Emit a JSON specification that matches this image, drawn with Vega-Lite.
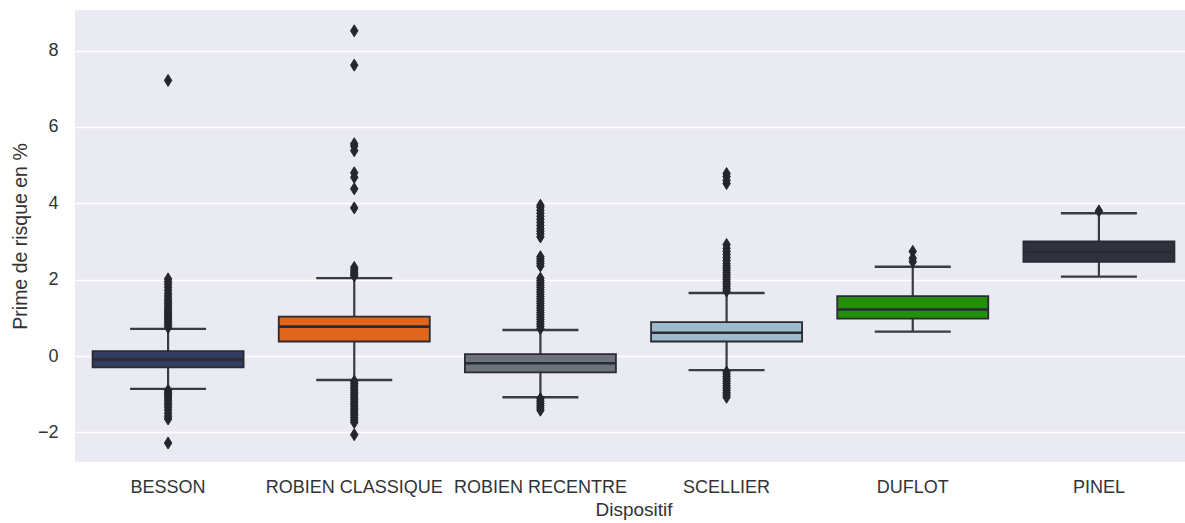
{
  "$schema": "https://vega.github.io/schema/vega-lite/v6.json",
  "width": 1117,
  "height": 452,
  "autosize": "none",
  "padding": {"left": 75, "top": 10, "right": 0, "bottom": 61},
  "background": "white",
  "config": {
    "view": {"fill": "#eaeaf2", "stroke": null},
    "font": "Liberation Sans",
    "axis": {"labelColor": "#333333", "titleColor": "#333333", "labelFont": "Liberation Sans", "titleFont": "Liberation Sans", "titleFontWeight": "normal", "domain": false, "ticks": false}
  },
  "datasets": {
    "boxes": [
      {"Dispositif": "BESSON", "lo": -0.86, "q1": -0.30, "med": -0.09, "q3": 0.13, "hi": 0.71},
      {"Dispositif": "ROBIEN CLASSIQUE", "lo": -0.63, "q1": 0.38, "med": 0.77, "q3": 1.03, "hi": 2.04},
      {"Dispositif": "ROBIEN RECENTRE", "lo": -1.08, "q1": -0.43, "med": -0.19, "q3": 0.05, "hi": 0.68},
      {"Dispositif": "SCELLIER", "lo": -0.37, "q1": 0.38, "med": 0.61, "q3": 0.89, "hi": 1.65},
      {"Dispositif": "DUFLOT", "lo": 0.64, "q1": 0.98, "med": 1.22, "q3": 1.57, "hi": 2.34},
      {"Dispositif": "PINEL", "lo": 2.08, "q1": 2.47, "med": 2.73, "q3": 3.0, "hi": 3.74}
    ],
    "outliers": [
      {"Dispositif": "BESSON", "v": 0.75}, {"Dispositif": "BESSON", "v": 0.8}, {"Dispositif": "BESSON", "v": 0.85}, {"Dispositif": "BESSON", "v": 0.9}, {"Dispositif": "BESSON", "v": 0.95}, {"Dispositif": "BESSON", "v": 1.0}, {"Dispositif": "BESSON", "v": 1.05}, {"Dispositif": "BESSON", "v": 1.1}, {"Dispositif": "BESSON", "v": 1.15}, {"Dispositif": "BESSON", "v": 1.2}, {"Dispositif": "BESSON", "v": 1.26}, {"Dispositif": "BESSON", "v": 1.32}, {"Dispositif": "BESSON", "v": 1.38}, {"Dispositif": "BESSON", "v": 1.44}, {"Dispositif": "BESSON", "v": 1.5}, {"Dispositif": "BESSON", "v": 1.57}, {"Dispositif": "BESSON", "v": 1.64}, {"Dispositif": "BESSON", "v": 1.72}, {"Dispositif": "BESSON", "v": 1.8}, {"Dispositif": "BESSON", "v": 1.88}, {"Dispositif": "BESSON", "v": 1.95}, {"Dispositif": "BESSON", "v": 2.02}, {"Dispositif": "BESSON", "v": 7.22},
      {"Dispositif": "BESSON", "v": -0.9}, {"Dispositif": "BESSON", "v": -0.95}, {"Dispositif": "BESSON", "v": -1.0}, {"Dispositif": "BESSON", "v": -1.05}, {"Dispositif": "BESSON", "v": -1.1}, {"Dispositif": "BESSON", "v": -1.16}, {"Dispositif": "BESSON", "v": -1.22}, {"Dispositif": "BESSON", "v": -1.28}, {"Dispositif": "BESSON", "v": -1.35}, {"Dispositif": "BESSON", "v": -1.42}, {"Dispositif": "BESSON", "v": -1.5}, {"Dispositif": "BESSON", "v": -1.58}, {"Dispositif": "BESSON", "v": -1.65}, {"Dispositif": "BESSON", "v": -2.28},
      {"Dispositif": "ROBIEN CLASSIQUE", "v": 2.1}, {"Dispositif": "ROBIEN CLASSIQUE", "v": 2.15}, {"Dispositif": "ROBIEN CLASSIQUE", "v": 2.2}, {"Dispositif": "ROBIEN CLASSIQUE", "v": 2.26}, {"Dispositif": "ROBIEN CLASSIQUE", "v": 2.32}, {"Dispositif": "ROBIEN CLASSIQUE", "v": 3.88}, {"Dispositif": "ROBIEN CLASSIQUE", "v": 4.38}, {"Dispositif": "ROBIEN CLASSIQUE", "v": 4.68}, {"Dispositif": "ROBIEN CLASSIQUE", "v": 4.8}, {"Dispositif": "ROBIEN CLASSIQUE", "v": 5.38}, {"Dispositif": "ROBIEN CLASSIQUE", "v": 5.5}, {"Dispositif": "ROBIEN CLASSIQUE", "v": 5.56}, {"Dispositif": "ROBIEN CLASSIQUE", "v": 7.62}, {"Dispositif": "ROBIEN CLASSIQUE", "v": 8.52},
      {"Dispositif": "ROBIEN CLASSIQUE", "v": -0.66}, {"Dispositif": "ROBIEN CLASSIQUE", "v": -0.72}, {"Dispositif": "ROBIEN CLASSIQUE", "v": -0.78}, {"Dispositif": "ROBIEN CLASSIQUE", "v": -0.84}, {"Dispositif": "ROBIEN CLASSIQUE", "v": -0.9}, {"Dispositif": "ROBIEN CLASSIQUE", "v": -0.96}, {"Dispositif": "ROBIEN CLASSIQUE", "v": -1.02}, {"Dispositif": "ROBIEN CLASSIQUE", "v": -1.08}, {"Dispositif": "ROBIEN CLASSIQUE", "v": -1.14}, {"Dispositif": "ROBIEN CLASSIQUE", "v": -1.2}, {"Dispositif": "ROBIEN CLASSIQUE", "v": -1.26}, {"Dispositif": "ROBIEN CLASSIQUE", "v": -1.32}, {"Dispositif": "ROBIEN CLASSIQUE", "v": -1.38}, {"Dispositif": "ROBIEN CLASSIQUE", "v": -1.44}, {"Dispositif": "ROBIEN CLASSIQUE", "v": -1.5}, {"Dispositif": "ROBIEN CLASSIQUE", "v": -1.56}, {"Dispositif": "ROBIEN CLASSIQUE", "v": -1.62}, {"Dispositif": "ROBIEN CLASSIQUE", "v": -1.68}, {"Dispositif": "ROBIEN CLASSIQUE", "v": -1.74}, {"Dispositif": "ROBIEN CLASSIQUE", "v": -2.06},
      {"Dispositif": "ROBIEN RECENTRE", "v": 0.72}, {"Dispositif": "ROBIEN RECENTRE", "v": 0.78}, {"Dispositif": "ROBIEN RECENTRE", "v": 0.84}, {"Dispositif": "ROBIEN RECENTRE", "v": 0.9}, {"Dispositif": "ROBIEN RECENTRE", "v": 0.96}, {"Dispositif": "ROBIEN RECENTRE", "v": 1.02}, {"Dispositif": "ROBIEN RECENTRE", "v": 1.08}, {"Dispositif": "ROBIEN RECENTRE", "v": 1.14}, {"Dispositif": "ROBIEN RECENTRE", "v": 1.2}, {"Dispositif": "ROBIEN RECENTRE", "v": 1.26}, {"Dispositif": "ROBIEN RECENTRE", "v": 1.32}, {"Dispositif": "ROBIEN RECENTRE", "v": 1.38}, {"Dispositif": "ROBIEN RECENTRE", "v": 1.44}, {"Dispositif": "ROBIEN RECENTRE", "v": 1.5}, {"Dispositif": "ROBIEN RECENTRE", "v": 1.56}, {"Dispositif": "ROBIEN RECENTRE", "v": 1.62}, {"Dispositif": "ROBIEN RECENTRE", "v": 1.68}, {"Dispositif": "ROBIEN RECENTRE", "v": 1.74}, {"Dispositif": "ROBIEN RECENTRE", "v": 1.8}, {"Dispositif": "ROBIEN RECENTRE", "v": 1.86}, {"Dispositif": "ROBIEN RECENTRE", "v": 1.92}, {"Dispositif": "ROBIEN RECENTRE", "v": 1.98}, {"Dispositif": "ROBIEN RECENTRE", "v": 2.04},
      {"Dispositif": "ROBIEN RECENTRE", "v": 2.36}, {"Dispositif": "ROBIEN RECENTRE", "v": 2.42}, {"Dispositif": "ROBIEN RECENTRE", "v": 2.48}, {"Dispositif": "ROBIEN RECENTRE", "v": 2.54}, {"Dispositif": "ROBIEN RECENTRE", "v": 2.6},
      {"Dispositif": "ROBIEN RECENTRE", "v": 3.12}, {"Dispositif": "ROBIEN RECENTRE", "v": 3.2}, {"Dispositif": "ROBIEN RECENTRE", "v": 3.27}, {"Dispositif": "ROBIEN RECENTRE", "v": 3.34}, {"Dispositif": "ROBIEN RECENTRE", "v": 3.42}, {"Dispositif": "ROBIEN RECENTRE", "v": 3.5}, {"Dispositif": "ROBIEN RECENTRE", "v": 3.58}, {"Dispositif": "ROBIEN RECENTRE", "v": 3.66}, {"Dispositif": "ROBIEN RECENTRE", "v": 3.74}, {"Dispositif": "ROBIEN RECENTRE", "v": 3.82}, {"Dispositif": "ROBIEN RECENTRE", "v": 3.9}, {"Dispositif": "ROBIEN RECENTRE", "v": 3.95},
      {"Dispositif": "ROBIEN RECENTRE", "v": -1.12}, {"Dispositif": "ROBIEN RECENTRE", "v": -1.18}, {"Dispositif": "ROBIEN RECENTRE", "v": -1.24}, {"Dispositif": "ROBIEN RECENTRE", "v": -1.3}, {"Dispositif": "ROBIEN RECENTRE", "v": -1.36}, {"Dispositif": "ROBIEN RECENTRE", "v": -1.42},
      {"Dispositif": "SCELLIER", "v": 1.7}, {"Dispositif": "SCELLIER", "v": 1.76}, {"Dispositif": "SCELLIER", "v": 1.82}, {"Dispositif": "SCELLIER", "v": 1.88}, {"Dispositif": "SCELLIER", "v": 1.94}, {"Dispositif": "SCELLIER", "v": 2.0}, {"Dispositif": "SCELLIER", "v": 2.06}, {"Dispositif": "SCELLIER", "v": 2.12}, {"Dispositif": "SCELLIER", "v": 2.18}, {"Dispositif": "SCELLIER", "v": 2.24}, {"Dispositif": "SCELLIER", "v": 2.3}, {"Dispositif": "SCELLIER", "v": 2.36}, {"Dispositif": "SCELLIER", "v": 2.42}, {"Dispositif": "SCELLIER", "v": 2.5}, {"Dispositif": "SCELLIER", "v": 2.58}, {"Dispositif": "SCELLIER", "v": 2.66}, {"Dispositif": "SCELLIER", "v": 2.74}, {"Dispositif": "SCELLIER", "v": 2.82}, {"Dispositif": "SCELLIER", "v": 2.92},
      {"Dispositif": "SCELLIER", "v": 4.52}, {"Dispositif": "SCELLIER", "v": 4.6}, {"Dispositif": "SCELLIER", "v": 4.7}, {"Dispositif": "SCELLIER", "v": 4.78},
      {"Dispositif": "SCELLIER", "v": -0.42}, {"Dispositif": "SCELLIER", "v": -0.48}, {"Dispositif": "SCELLIER", "v": -0.54}, {"Dispositif": "SCELLIER", "v": -0.6}, {"Dispositif": "SCELLIER", "v": -0.66}, {"Dispositif": "SCELLIER", "v": -0.72}, {"Dispositif": "SCELLIER", "v": -0.78}, {"Dispositif": "SCELLIER", "v": -0.84}, {"Dispositif": "SCELLIER", "v": -0.9}, {"Dispositif": "SCELLIER", "v": -0.96}, {"Dispositif": "SCELLIER", "v": -1.02}, {"Dispositif": "SCELLIER", "v": -1.08},
      {"Dispositif": "DUFLOT", "v": 2.47}, {"Dispositif": "DUFLOT", "v": 2.56}, {"Dispositif": "DUFLOT", "v": 2.74},
      {"Dispositif": "PINEL", "v": 3.8}
    ]
  },
  "encoding": {
    "x": {
      "field": "Dispositif",
      "type": "nominal",
      "sort": ["BESSON", "ROBIEN CLASSIQUE", "ROBIEN RECENTRE", "SCELLIER", "DUFLOT", "PINEL"],
      "scale": {"paddingInner": 0, "paddingOuter": 0},
      "axis": {"labelAngle": 0, "labelFontSize": 18, "labelPadding": 16, "title": "Dispositif", "titleFontSize": 19, "titlePadding": 4, "grid": false}
    }
  },
  "layer": [
    {
      "data": {"name": "boxes"},
      "mark": {"type": "rule", "color": "#3a3a44", "strokeWidth": 2.2},
      "encoding": {
        "y": {"field": "lo", "type": "quantitative", "scale": {"domain": [-2.777, 9.065], "nice": false, "zero": false},
          "axis": {"values": [-2, 0, 2, 4, 6, 8], "grid": true, "gridColor": "white", "gridWidth": 1.4, "labelFontSize": 18, "labelPadding": 17, "title": "Prime de risque en %", "titleFontSize": 19.5, "titlePadding": 7}},
        "y2": {"field": "hi"}
      }
    },
    {
      "data": {"name": "boxes"},
      "mark": {"type": "tick", "orient": "horizontal", "size": 76, "thickness": 2.4, "color": "#3a3a44", "opacity": 1},
      "encoding": {"y": {"field": "lo", "type": "quantitative"}}
    },
    {
      "data": {"name": "boxes"},
      "mark": {"type": "tick", "orient": "horizontal", "size": 76, "thickness": 2.4, "color": "#3a3a44", "opacity": 1},
      "encoding": {"y": {"field": "hi", "type": "quantitative"}}
    },
    {
      "data": {"name": "boxes"},
      "mark": {"type": "bar", "width": 151, "stroke": "#2a2a33", "strokeWidth": 1.8, "opacity": 1},
      "encoding": {
        "y": {"field": "q1", "type": "quantitative"},
        "y2": {"field": "q3"},
        "color": {"field": "Dispositif", "type": "nominal", "legend": null,
          "scale": {"domain": ["BESSON", "ROBIEN CLASSIQUE", "ROBIEN RECENTRE", "SCELLIER", "DUFLOT", "PINEL"],
            "range": ["#323d5e", "#e0661c", "#6c737d", "#9dbbcb", "#23900c", "#2e323d"]}}
      }
    },
    {
      "data": {"name": "boxes"},
      "mark": {"type": "tick", "orient": "horizontal", "size": 151, "thickness": 2.6, "color": "#2a2a33", "opacity": 1},
      "encoding": {"y": {"field": "med", "type": "quantitative"}}
    },
    {
      "data": {"name": "outliers"},
      "mark": {"type": "point", "shape": "M0,-1L0.62,0L0,1L-0.62,0Z", "size": 144, "filled": true, "color": "#262630", "stroke": "#262630", "strokeWidth": 1, "opacity": 1},
      "encoding": {"y": {"field": "v", "type": "quantitative"}}
    }
  ]
}
